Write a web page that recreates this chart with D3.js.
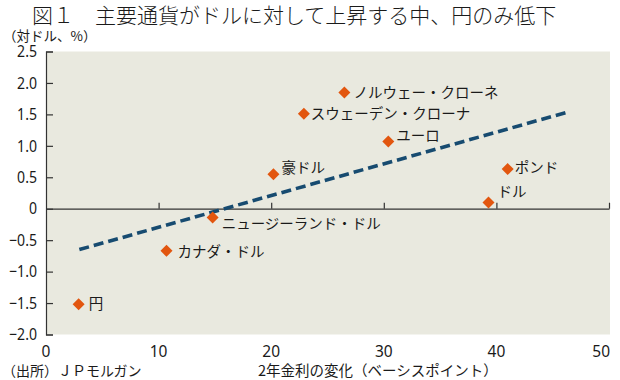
<!DOCTYPE html>
<html><head><meta charset="utf-8">
<script src="https://cdn.jsdelivr.net/npm/d3@7"></script>
<style>
html,body{margin:0;padding:0;background:#fff;}
text{font-family:"Noto Sans CJK JP","Noto Sans",sans-serif;fill:#1a1a1a;}
.num{font-family:"Noto Sans","Noto Sans CJK JP",sans-serif;}
</style></head>
<body>
<svg id="c" width="620" height="380"></svg>
<script>
const title = "図１　主要通貨がドルに対して上昇する中、円のみ低下";
const yUnit = "（対ドル、%）";
const source = "（出所）ＪＰモルガン";
const xTitle = "2年金利の変化（ベーシスポイント）";

const currencies = ["ノルウェー・クローネ","スウェーデン・クローナ","ユーロ","豪ドル","ポンド","ドル","ニュージーランド・ドル","カナダ・ドル","円"];
const rateChange = [26.5, 22.9, 30.4, 20.2, 41.0, 39.3, 14.8, 10.7, 2.9];
const fxChange   = [1.85, 1.51, 1.07, 0.55, 0.63, 0.10, -0.14, -0.67, -1.52];
// label offsets (dx, dy) for readability
const labelDx = [9, 7, 8, 8, 7, 9, 9, 11, 10];
const labelDy = [0, 0, -6, -6, -1, -11, 6, 1, -1];

const trendX = [2.96, 46.2];
const trendY = [-0.65, 1.53];

const xTicks = [0, 10, 20, 30, 40, 50];
const yTicks = [2.5, 2.0, 1.5, 1.0, 0.5, 0, -0.5, -1.0, -1.5, -2.0];

const svg = d3.select("#c");
const x = d3.scaleLinear().domain([0, 50]).range([46, 609]);
const y = d3.scaleLinear().domain([-2, 2.5]).range([334.5, 51.5]);

// title
svg.append("text").attr("x", 32).attr("y", 23).attr("font-size", 21).attr("font-weight", 300).text(title);
svg.append("text").attr("x", 3).attr("y", 41).attr("font-size", 13.5).text(yUnit);

// plot bg
svg.append("rect").attr("x", x(0)).attr("y", y(2.5)).attr("width", x(50)-x(0)+1).attr("height", y(-2)-y(2.5))
  .attr("fill", "#e9e9df");

// y axis
const yAxis = d3.axisRight(y).tickValues(yTicks).tickSize(7).tickFormat("");
const gy = svg.append("g").attr("transform", `translate(${x(0)},0)`).call(yAxis);
gy.select(".domain").attr("stroke", "#333").attr("stroke-width", 1.2);
gy.selectAll(".tick line").attr("stroke", "#333").attr("stroke-width", 1.2);

const fmtY = v => v === 0 ? "0" : (v < 0 ? "−" : "") + Math.abs(v).toFixed(1);
svg.append("g").selectAll("text").data(yTicks).join("text")
  .attr("class", "num")
  .attr("x", 37).attr("y", d => y(d)).attr("dy", "0.36em")
  .attr("text-anchor", "end").attr("font-size", 16)
  .attr("transform", `translate(37,0) scale(0.88,1) translate(-37,0)`)
  .text(fmtY);

// zero line with ticks upward
const xAxis = d3.axisTop(x).tickValues(xTicks.filter(d => d > 0)).tickSize(6).tickSizeOuter(0).tickFormat("");
const gx = svg.append("g").attr("transform", `translate(0,${y(0)})`).call(xAxis);
gx.select(".domain").attr("stroke", "#333").attr("stroke-width", 1.2);
gx.selectAll(".tick line").attr("stroke", "#333").attr("stroke-width", 1.2);

// x tick labels
svg.append("g").selectAll("text").data(xTicks).join("text")
  .attr("class", "num")
  .attr("x", d => d === 50 ? x(d) + 1 : x(d)).attr("y", 357)
  .attr("text-anchor", d => d === 50 ? "end" : "middle").attr("font-size", 15.5)
  .text(d => d);

svg.append("text").attr("x", 2).attr("y", 375.5).attr("font-size", 14).text(source);
svg.append("text").attr("x", 258).attr("y", 375.5).attr("font-size", 14.5).text(xTitle);

// trend line
const line = d3.line().x(d => x(d[0])).y(d => y(d[1]));
svg.append("path").datum(trendX.map((v, i) => [v, trendY[i]]))
  .attr("d", line).attr("fill", "none").attr("stroke", "#174b70")
  .attr("stroke-width", 3.6).attr("stroke-dasharray", "10,5");

// points
const sym = d3.symbol().type(d3.symbolSquare).size(72);
const pts = svg.append("g").selectAll("g").data(currencies).join("g")
  .attr("transform", (d, i) => `translate(${x(rateChange[i])},${y(fxChange[i])})`);
pts.append("path").attr("d", sym()).attr("transform", "rotate(45)").attr("fill", "#e2560f");
pts.append("text").attr("x", (d, i) => labelDx[i]).attr("y", (d, i) => labelDy[i])
  .attr("dy", "0.36em").attr("font-size", 14.5).text(d => d);
</script>
</body></html>
